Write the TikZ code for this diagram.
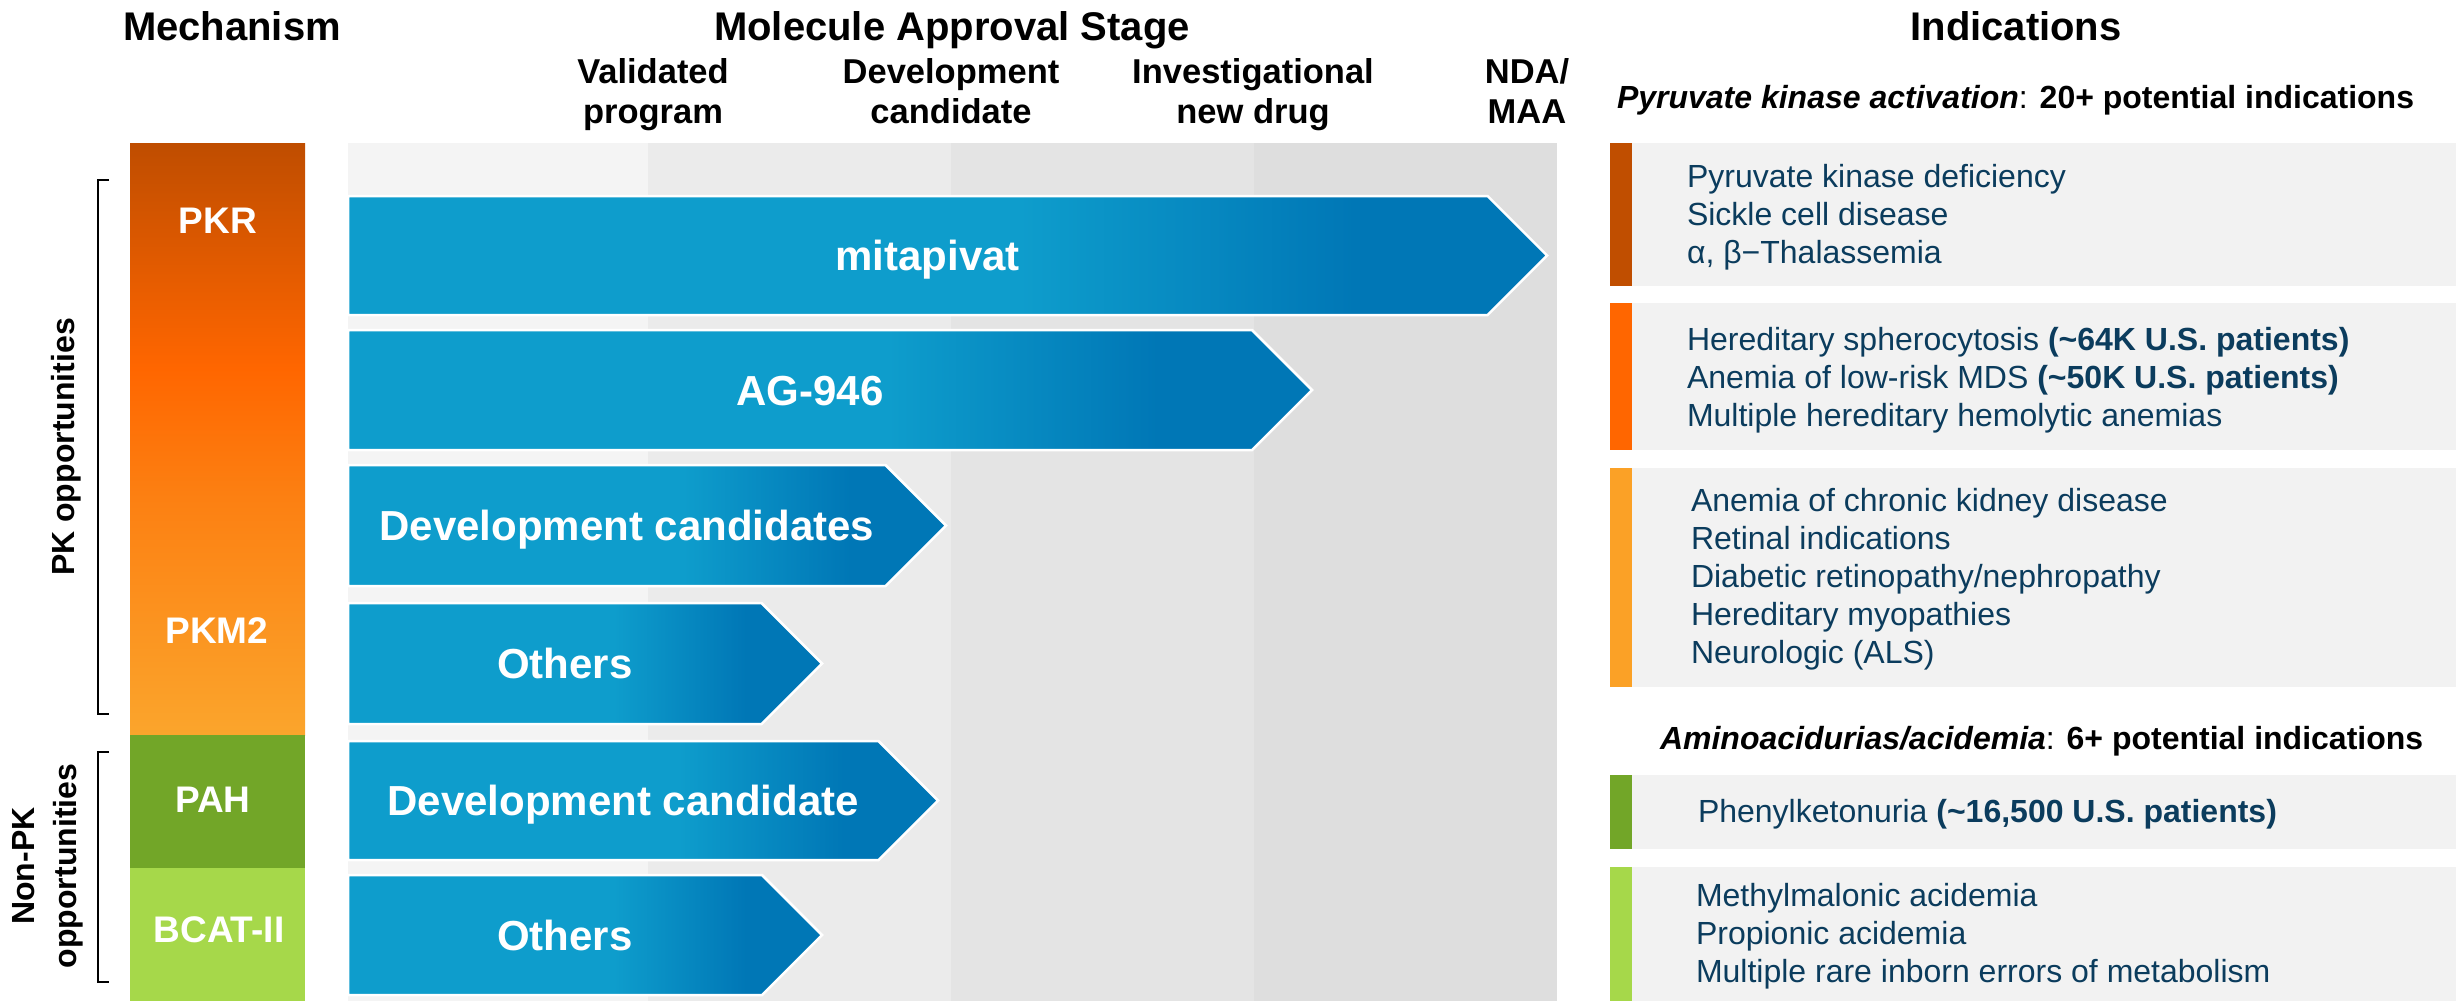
\documentclass[tikz,border=0pt]{standalone}
\usepackage{fontspec}
\setmainfont{Liberation Sans}

\definecolor{txtblue}{HTML}{0B3C5D}
\definecolor{pkr}{HTML}{BF4D00}
\definecolor{pkmid}{HTML}{FF6600}
\definecolor{pklow}{HTML}{FC8012}
\definecolor{pkm}{HTML}{FBA52C}
\definecolor{barpkr}{HTML}{C04E00}
\definecolor{barpk}{HTML}{FF6600}
\definecolor{barpkm}{HTML}{FBA126}
\definecolor{pah}{HTML}{72A628}
\definecolor{bcat}{HTML}{A6D84A}
\definecolor{boxgray}{HTML}{F2F2F2}
\definecolor{colA}{HTML}{F4F4F4}
\definecolor{colB}{HTML}{EBEBEB}
\definecolor{colC}{HTML}{E4E4E4}
\definecolor{colD}{HTML}{DEDEDE}
\definecolor{arlight}{HTML}{0E9DCC}
\definecolor{ardark}{HTML}{0077B6}

% shadings are fitted so that 25bp..75bp spans the filled path
% blue chevrons: light on the left, dark toward the tip
\pgfdeclarehorizontalshading{chevshade}{100bp}{color(0bp)=(arlight); color(53bp)=(arlight); color(67bp)=(ardark); color(100bp)=(ardark)}
% pyruvate kinase block: deep orange at the top, amber at the bottom
\pgfdeclareverticalshading{pkshade}{100bp}{color(0bp)=(pkm); color(25bp)=(pkm); color(45bp)=(pklow); color(56bp)=(pkmid); color(75bp)=(pkr); color(100bp)=(pkr)}

% chevron: name, top, bottom, tip x, label
\newcommand\pipechevron[5]{%
  \pgfmathsetmacro\chevhalf{(#3-#2)/2}%
  \pgfmathsetmacro\chevmid{(#2+#3)/2}%
  \pgfmathsetmacro\chevshoulder{#4-\chevhalf}%
  \path[chevbody] (348,#2) -- (\chevshoulder,#2) -- (#4,\chevmid) -- (\chevshoulder,#3) -- (348,#3) -- cycle;
  \node[chevlbl] (#1) at ({(348+\chevshoulder)/2+10},{\chevmid+15}) {#5};
}

\begin{document}
\begin{tikzpicture}[x=1pt,y=-1pt,
  every node/.style={inner sep=0pt, outer sep=0pt},
  head/.style={font=\fontsize{40}{48}\selectfont\bfseries, anchor=base},
  stagelbl/.style={font=\fontsize{34.5}{40}\selectfont\bfseries, align=center, anchor=base},
  mechlbl/.style={font=\fontsize{37}{44}\selectfont\bfseries, text=white, anchor=base},
  grouplbl/.style={font=\fontsize{32}{42}\selectfont\bfseries, align=center, rotate=90},
  bracket/.style={line width=2.5pt, draw=black},
  chevbody/.style={shade, shading=chevshade, draw=white, line width=2.5pt, line join=miter},
  chevlbl/.style={font=\fontsize{42}{50}\selectfont\bfseries, text=white, anchor=base},
  indhead/.style={font=\fontsize{32}{38}\selectfont\bfseries, anchor=base west},
  indtext/.style={font=\fontsize{32}{38}\selectfont, text=txtblue, align=left, anchor=base west},
]
\useasboundingbox (0,0) rectangle (2456,1001);

% ---- column headings (multi-line labels are placed by their last baseline)
\node[head] (mechhead) at (232,40) {Mechanism};
\node[head] (stagehead) at (952,40) {Molecule Approval Stage};
\node[head] (indhead) at (2016,40) {Indications};

\node[stagelbl] (stval) at (653,123) {Validated\\program};
\node[stagelbl] (stdev) at (951,123) {Development\\candidate};
\node[stagelbl] (stind) at (1253,123) {Investigational\\new drug};
\node[stagelbl] (stnda) at (1527,123) {NDA/\\MAA};

% ---- stage background bands
\fill[colA] (348,143) rectangle (648,1001);
\fill[colB] (648,143) rectangle (951,1001);
\fill[colC] (951,143) rectangle (1254,1001);
\fill[colD] (1254,143) rectangle (1557,1001);

% ---- mechanism column
\shade[shading=pkshade] (130,143) rectangle (305,735);
\fill[pah] (130,735) rectangle (305,868);
\fill[bcat] (130,868) rectangle (305,1001);
\node[mechlbl] (pkr) at (218,233) {PKR};
\node[mechlbl] (pkm2) at (217,643) {PKM2};
\node[mechlbl] (pah) at (213,812) {PAH};
\node[mechlbl] (bcat) at (219,942) {BCAT-II};

% ---- group brackets
\draw[bracket] (109,180) -- (98,180) -- (98,714) -- (109,714);
\draw[bracket] (109,752) -- (98,752) -- (98,982) -- (109,982);
\node[grouplbl] (pkgroup) at (66,447) {PK opportunities};
\node[grouplbl] (nonpkgroup) at (48,866) {Non-PK\\opportunities};

% ---- programme chevrons
\pipechevron{mitapivat}{196}{315}{1547}{mitapivat}
\pipechevron{ag946}{330}{450}{1312}{AG-946}
\pipechevron{pkdev}{465}{586}{946}{Development candidates}
\pipechevron{pkoth}{603}{724}{822}{Others}
\pipechevron{npdev}{741}{860}{938}{Development candidate}
\pipechevron{npoth}{875}{995}{822}{Others}

% ---- indications
\node[indhead] (pkind) at (1617,108) {{\itshape Pyruvate kinase activation}{\mdseries:} 20+ potential indications};

\fill[barpkr] (1610,143) rectangle (1632,286);
\fill[boxgray] (1632,143) rectangle (2456,286);
\node[indtext] (ind1) at (1687,263) {Pyruvate kinase deficiency\\Sickle cell disease\\α, β−Thalassemia};

\fill[barpk] (1610,303) rectangle (1632,450);
\fill[boxgray] (1632,303) rectangle (2456,450);
\node[indtext] (ind2) at (1687,426) {Hereditary spherocytosis {\bfseries(\textasciitilde64K U.S. patients)}\\Anemia of low-risk MDS {\bfseries(\textasciitilde50K U.S. patients)}\\Multiple hereditary hemolytic anemias};

\fill[barpkm] (1610,468) rectangle (1632,687);
\fill[boxgray] (1632,468) rectangle (2456,687);
\node[indtext] (ind3) at (1691,663) {Anemia of chronic kidney disease\\Retinal indications\\Diabetic retinopathy/nephropathy\\Hereditary myopathies\\Neurologic (ALS)};

\node[indhead] (aaind) at (1660,749) {{\itshape Aminoacidurias/acidemia}{\mdseries:} 6+ potential indications};

\fill[pah] (1610,775) rectangle (1632,849);
\fill[boxgray] (1632,775) rectangle (2456,849);
\node[indtext] (ind4) at (1698,822) {Phenylketonuria {\bfseries(\textasciitilde16,500 U.S. patients)}};

\fill[bcat] (1610,867) rectangle (1632,1001);
\fill[boxgray] (1632,867) rectangle (2456,1001);
\node[indtext] (ind5) at (1696,982) {Methylmalonic acidemia\\Propionic acidemia\\Multiple rare inborn errors of metabolism};
\end{tikzpicture}
\end{document}
